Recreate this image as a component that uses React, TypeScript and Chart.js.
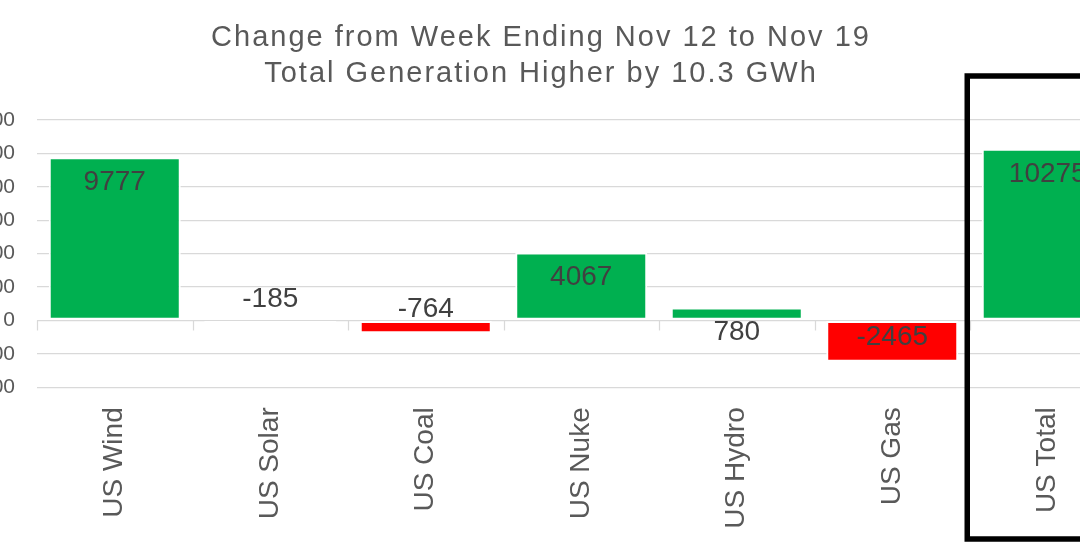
import React, { useEffect, useRef } from 'react';
import { Chart, registerables } from 'chart.js';

Chart.register(...registerables);

const categories = ['US Wind', 'US Solar', 'US Coal', 'US Nuke', 'US Hydro', 'US Gas', 'US Total'];
const changes = [9777, -185, -764, 4067, 780, -2465, 10275];
const titleLines = ['Change from Week Ending Nov 12 to Nov 19', 'Total Generation Higher by 10.3 GWh'];
const yMin = -4000;
const yMax = 12000;
const yStep = 2000;
const highlightIndex = 6;

const positiveColor = '#00B050';
const negativeColor = '#FF0000';
const FONT = '"Liberation Sans", Arial, Helvetica, sans-serif';
const OFFSET = 60;
const CW = 1200;
const CH = 546;

const decorPlugin = {
  id: 'decor',
  beforeDatasetsDraw(chart: any) {
    const { ctx, chartArea } = chart;
    const y0 = chart.scales.y.getPixelForValue(0);
    const catW = (chartArea.right - chartArea.left) / categories.length;
    ctx.save();
    ctx.strokeStyle = '#d9d9d9';
    ctx.lineWidth = 1.25;
    for (let i = 0; i <= categories.length; i++) {
      const x = Math.round(chartArea.left + i * catW) + 0.5;
      ctx.beginPath();
      ctx.moveTo(x, y0);
      ctx.lineTo(x, y0 + 10);
      ctx.stroke();
    }
    ctx.restore();
  },
  afterDatasetsDraw(chart: any) {
    const { ctx } = chart;
    const meta = chart.getDatasetMeta(0);
    ctx.save();
    ctx.font = `28px ${FONT}`;
    ctx.fillStyle = '#404040';
    ctx.textAlign = 'center';
    ctx.textBaseline = 'middle';
    meta.data.forEach((bar: any, i: number) => {
      const v = changes[i];
      const y = v >= 0 ? bar.y + 25 : bar.y - 24;
      ctx.fillText(String(v), bar.x, y);
    });
    ctx.restore();
  },
  afterDraw(chart: any) {
    const { ctx, chartArea } = chart;
    ctx.save();
    ctx.font = `29px ${FONT}`;
    ctx.fillStyle = '#595959';
    ctx.textAlign = 'center';
    ctx.textBaseline = 'alphabetic';
    (ctx as any).letterSpacing = '2px';
    ctx.fillText(titleLines[0], OFFSET + 541, 45.5);
    ctx.fillText(titleLines[1], OFFSET + 541, 81.5);
    (ctx as any).letterSpacing = '0px';
    const catW = (chartArea.right - chartArea.left) / categories.length;
    const bx = chart.scales.x.getPixelForValue(highlightIndex) - catW / 2 - 2.75;
    const top = chartArea.top - 44;
    ctx.strokeStyle = '#000000';
    ctx.lineWidth = 5.5;
    ctx.strokeRect(bx, top, CW, CH - 7 - top);
    ctx.restore();
  },
};

export default function App() {
  const ref = useRef<HTMLCanvasElement>(null);
  useEffect(() => {
    if (!ref.current) return;
    const chart = new Chart(ref.current, {
      type: 'bar',
      data: {
        labels: categories,
        datasets: [
          {
            data: changes,
            backgroundColor: changes.map((v) => (v >= 0 ? positiveColor : negativeColor)),
            borderColor: '#ffffff',
            borderWidth: 2,
            borderSkipped: false,
            categoryPercentage: 1,
            barPercentage: 0.849,
          },
        ],
      },
      options: {
        responsive: false,
        animation: false,
        layout: { padding: { left: 37, right: 14.5, top: 120, bottom: 0 } },
        plugins: {
          legend: { display: false },
          title: { display: false },
          tooltip: { enabled: false },
        },
        scales: {
          x: {
            grid: { display: false, drawTicks: false },
            border: { display: false },
            ticks: {
              autoSkip: false,
              minRotation: 90,
              maxRotation: 90,
              padding: 20,
              color: '#595959',
              font: { size: 28, family: FONT },
            },
            afterFit: (s: any) => {
              s.height = 158.7;
            },
          },
          y: {
            min: yMin,
            max: yMax,
            grid: { color: '#d9d9d9', lineWidth: 1.25, drawTicks: false },
            border: { display: false },
            ticks: {
              stepSize: yStep,
              padding: 22,
              color: '#595959',
              font: { size: 21, family: FONT },
            },
            afterFit: (s: any) => {
              s.width = 60;
            },
          },
        },
      },
      plugins: [decorPlugin],
    });
    return () => chart.destroy();
  }, []);
  return (
    <div
      style={{
        position: 'fixed',
        left: 0,
        top: 0,
        width: 1080,
        height: 546,
        overflow: 'hidden',
        background: '#ffffff',
      }}
    >
      <canvas ref={ref} width={CW} height={CH} style={{ position: 'absolute', left: -OFFSET, top: 0 }} />
    </div>
  );
}
